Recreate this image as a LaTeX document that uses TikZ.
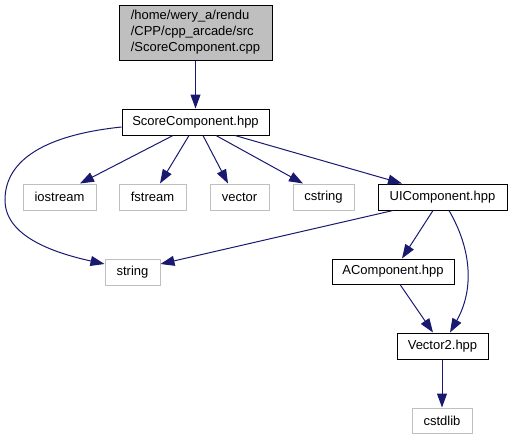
\documentclass[tikz,border=0pt]{standalone}
\usepackage{fontspec}
\setmainfont{Liberation Sans}
\usetikzlibrary{arrows.meta}
\definecolor{edgeblue}{HTML}{191970}
\definecolor{sysgray}{HTML}{BFBFBF}
\definecolor{topfill}{HTML}{BFBFBF}
\tikzset{
  box/.style={draw=black, line width=1pt, fill=white, inner sep=0pt, minimum height=26pt,
    font=\fontsize{13}{16}\selectfont},
  sysbox/.style={box, draw=sysgray},
  edge/.style={draw=edgeblue, line width=1pt, -{Triangle[length=14pt,width=10pt]}},
}
\begin{document}
\begin{tikzpicture}[x=1pt,y=-1pt]
\useasboundingbox (0,0) rectangle (512,440);
\node[box, fill=topfill, minimum width=153pt, minimum height=55pt, align=left] (top) at (195.5,32.5)
  {/home/wery\_a/rendu\\/CPP/cpp\_arcade/src\\/ScoreComponent.cpp};
\node[box, minimum width=147pt] (score) at (195.5,122) {ScoreComponent.hpp};
\node[sysbox, minimum width=73pt] (iostream) at (59.5,197) {iostream};
\node[sysbox, minimum width=67pt] (fstream) at (152.5,197) {fstream};
\node[sysbox, minimum width=59pt] (vector) at (239.5,197) {vector};
\node[sysbox, minimum width=61pt] (cstring) at (323.5,197) {cstring};
\node[box, minimum width=129pt] (ui) at (442.5,197) {UIComponent.hpp};
\node[sysbox, minimum width=55pt] (string) at (132.5,272) {string};
\node[box, minimum width=122pt, minimum height=25pt] (acomp) at (393,271.5) {AComponent.hpp};
\node[box, minimum width=91pt] (vec2) at (442.5,346) {Vector2.hpp};
\node[sysbox, minimum width=60pt, minimum height=25pt] (cstdlib) at (442,420.5) {cstdlib};

\draw[edge] (top.south) -- (score.north);
\draw[edge] ([yshift=-5pt]score.west) .. controls (45,135) and (5,160) .. (5,200)
  .. controls (5,235) and (50,252) .. ([yshift=8pt]string.west);
\draw[edge] ([xshift=-22.5pt]score.south) -- ([xshift=20.5pt]iostream.north);
\draw[edge] ([xshift=-6.5pt]score.south) -- ([xshift=7.5pt]fstream.north);
\draw[edge] ([xshift=7.5pt]score.south) -- ([xshift=-11.5pt]vector.north);
\draw[edge] ([xshift=20.5pt]score.south) -- ([xshift=-20.5pt]cstring.north);
\draw[edge] ([xshift=39.5pt]score.south) -- ([xshift=-40.5pt]ui.north);
\draw[edge] ([xshift=-49.5pt]ui.south) -- ([yshift=8pt]string.east);
\draw[edge] ([xshift=-9.5pt]ui.south) -- ([xshift=9pt]acomp.north);
\draw[edge] ([xshift=6.5pt]ui.south) .. controls (472,250) and (474,290) .. ([xshift=7.5pt]vec2.north);
\draw[edge] ([xshift=7pt]acomp.south) -- ([xshift=-9.5pt]vec2.north);
\draw[edge] ([xshift=-0.5pt]vec2.south) -- (cstdlib.north);
\end{tikzpicture}
\end{document}
